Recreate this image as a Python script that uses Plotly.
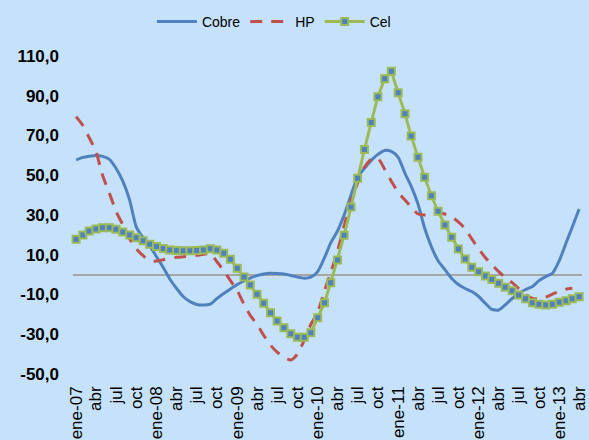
import pandas as pd
import plotly.graph_objects as go

# ---- data (monthly, ene-07 .. abr-13) ----
months = pd.date_range("2007-01-01", "2013-04-01", freq="MS")

cobre = [57.7, 59.0, 59.6, 60.0, 59.5, 58.0, 53.5, 47.0, 37.5, 24.0,
         18.5, 14.5, 9.0, 3.5, -2.2, -7.0, -11.0, -13.6, -15.0, -15.3,
         -14.8, -12.0, -9.5, -7.2, -5.0, -3.2, -1.8, -0.5, 0.3, 0.7,
         0.6, 0.3, -0.4, -1.2, -1.8, -1.3, 1.5, 8.5, 16.0, 22.0,
         30.0, 40.0, 49.0, 53.5, 57.5, 60.5, 62.5, 62.0, 59.0, 51.0,
         44.5, 35.5, 23.5, 14.0, 7.0, 2.5, -2.0, -5.0, -7.0, -8.5,
         -11.0, -14.5, -17.5, -17.8, -15.2, -12.0, -9.5, -7.5, -6.0, -3.0,
         -1.0, 0.7, 7.0, 16.0, 24.0, 33.0]

hp = [79.5, 75.0, 69.0, 62.0, 50.0, 41.0, 32.0, 25.0, 18.0, 13.0,
      9.5, 7.0, 6.8, 7.5, 8.2, 8.7, 9.0, 9.3, 9.7, 10.2,
      10.5, 6.5, 2.0, -3.0, -8.0, -15.0, -20.5, -25.0, -30.5, -35.5,
      -39.0, -41.5, -43.0, -40.0, -33.0, -25.0, -19.0, -8.0, 1.0, 12.0,
      24.5, 37.0, 46.0, 54.0, 58.0, 58.5, 53.0, 47.0, 41.5, 37.5,
      34.0, 30.5, 30.0, 30.5, 31.0, 30.5, 29.0, 26.5, 23.0, 18.0,
      13.0, 8.5, 5.0, 1.5, -1.5, -4.0, -7.0, -10.0, -12.0, -12.3,
      -11.3, -9.8, -8.5, -7.3, -6.8, None]

cel = [17.8, 19.9, 22.0, 23.0, 23.6, 23.6, 22.8, 21.4, 19.9, 18.6,
       17.1, 15.3, 14.1, 13.2, 12.4, 12.2, 12.0, 12.0, 12.2, 12.4,
       13.0, 12.4, 10.7, 7.7, 3.2, -1.2, -5.2, -9.9, -14.4, -19.2,
       -23.3, -26.7, -29.7, -31.5, -31.5, -29.2, -21.7, -14.1, -4.1, 7.4,
       19.8, 34.0, 48.5, 62.9, 76.6, 89.5, 98.6, 102.3, 91.5, 81.0,
       69.7, 59.0, 49.0, 39.7, 31.9, 25.0, 18.8, 12.9, 7.9, 3.7,
       1.5, -0.7, -2.4, -4.4, -6.4, -8.1, -10.3, -12.1, -14.1, -14.9,
       -15.3, -14.9, -13.9, -13.1, -12.1, -11.1]

x_tick_vals = months[::3]
x_tick_text = ["ene-07", "abr", "jul", "oct", "ene-08", "abr", "jul", "oct",
               "ene-09", "abr", "jul", "oct", "ene-10", "abr", "jul", "oct",
               "ene-11", "abr", "jul", "oct", "ene-12", "abr", "jul", "oct",
               "ene-13", "abr"]

y_tick_vals = [-50, -30, -10, 10, 30, 50, 70, 90, 110]
y_tick_text = ["-50,0", "-30,0", "-10,0", "10,0", "30,0", "50,0", "70,0", "90,0", "110,0"]

BG = "#C6E2FA"
FONT = "Liberation Sans, Arial, sans-serif"

fig = go.Figure()
fig.add_trace(go.Scatter(
    x=months, y=cobre, name="Cobre", mode="lines",
    line=dict(color="#4F81BD", width=3, shape="spline", smoothing=0.6),
))
fig.add_trace(go.Scatter(
    x=months, y=hp, name="HP", mode="lines",
    line=dict(color="#C0504D", width=3, dash="12px,9px", shape="spline", smoothing=0.6),
))
fig.add_trace(go.Scatter(
    x=months, y=cel, name="Cel", mode="lines+markers",
    line=dict(color="#9BBB59", width=3),
    marker=dict(symbol="square", size=7, color="#4F81BD",
                line=dict(color="#9BBB59", width=2)),
    cliponaxis=False,
))

fig.update_layout(
    width=589, height=440,
    margin=dict(l=73, r=0, t=56, b=66),
    paper_bgcolor=BG, plot_bgcolor=BG,
    font=dict(family=FONT, color="#000000"),
    showlegend=True,
    legend=dict(orientation="h", xref="container", yref="container",
                x=0.465, xanchor="center", y=0.95, yanchor="middle",
                font=dict(size=14, family=FONT), bgcolor="rgba(0,0,0,0)",
                itemwidth=40, tracegroupgap=0),
)
fig.update_xaxes(
    range=["2006-12-18", "2013-04-14"],
    tickvals=x_tick_vals, ticktext=x_tick_text, tickangle=-90,
    tickfont=dict(size=17, family=FONT), ticks="", showgrid=False,
    showline=False, zeroline=False, ticklabelstandoff=8,
    ticklabeloverflow="allow",
)
fig.update_yaxes(
    range=[-50, 110],
    tickvals=y_tick_vals, ticktext=y_tick_text,
    tickfont=dict(size=17, family=FONT, weight="bold"),
    ticks="", showgrid=False, showline=False,
    zeroline=True, zerolinecolor="#A6A6A6", zerolinewidth=2,
    ticklabelstandoff=13,
)

fig.write_html(
    "out.html",
    config={"displayModeBar": False},
    post_script="document.body.style.margin='0';document.body.style.overflow='hidden';"
                "document.body.style.background='" + BG + "';",
)
